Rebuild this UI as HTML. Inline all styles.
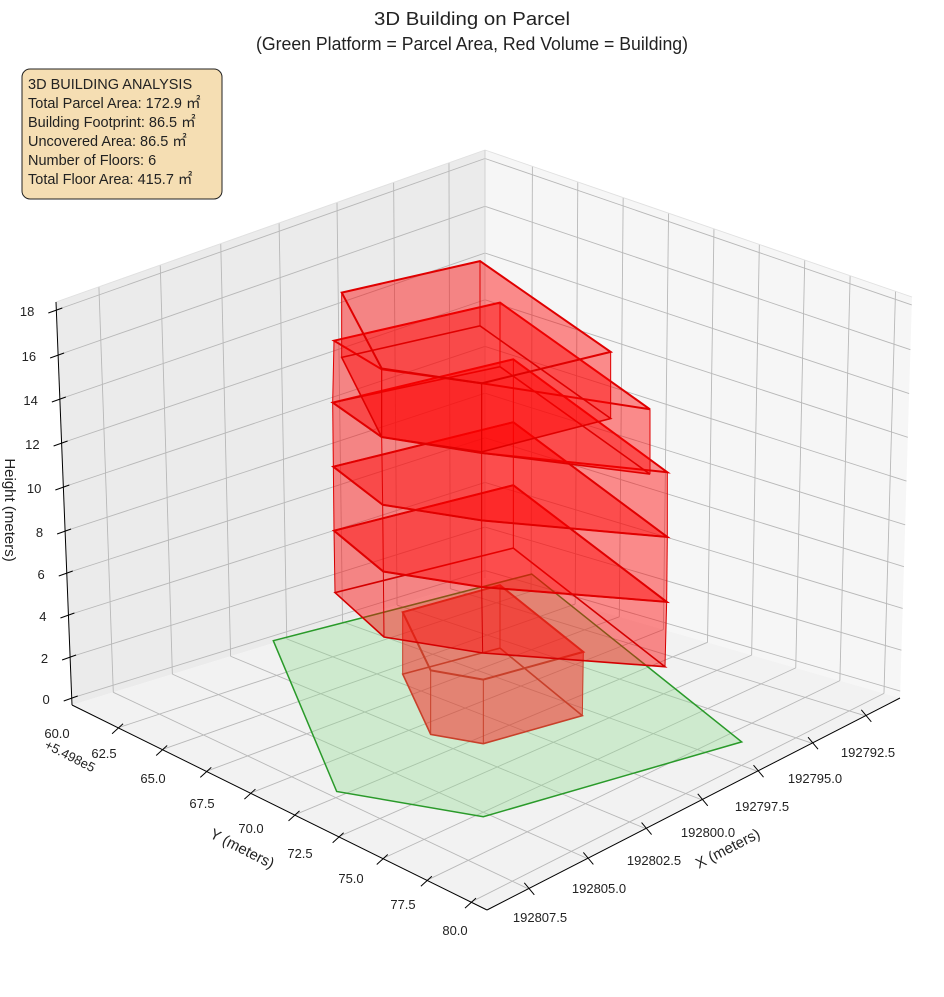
<!DOCTYPE html>
<html><head><meta charset="utf-8"><style>
body{margin:0;background:#fff;}
svg text{font-family:"Liberation Sans",sans-serif;fill:#222;}
</style></head><body>
<svg id="s" width="944" height="992" xmlns="http://www.w3.org/2000/svg">
<rect width="944" height="992" fill="#fff"/>
<g id="panes"></g>
<g id="grid" stroke="#b8b8b8" stroke-width="0.9" fill="none"></g>
<g id="axes" stroke="#000" stroke-width="1" fill="none"></g>
<g id="bld"></g>
<g id="lbl" font-size="13"></g>
<text x="472" y="25" font-size="18" text-anchor="middle" textLength="196" lengthAdjust="spacingAndGlyphs">3D Building on Parcel</text>
<text x="472" y="50" font-size="18" text-anchor="middle" textLength="432" lengthAdjust="spacingAndGlyphs">(Green Platform = Parcel Area, Red Volume = Building)</text>
<rect x="22" y="69" width="200" height="130" rx="8" fill="#f5deb3" stroke="#222" stroke-width="1"/>
<g font-size="14.5">
<text x="28" y="89">3D BUILDING ANALYSIS</text>
<text x="28" y="108">Total Parcel Area: 172.9 ㎡</text>
<text x="28" y="127">Building Footprint: 86.5 ㎡</text>
<text x="28" y="146">Uncovered Area: 86.5 ㎡</text>
<text x="28" y="165">Number of Floors: 6</text>
<text x="28" y="184">Total Floor Area: 415.7 ㎡</text>
</g>
<text x="730" y="853" font-size="15" text-anchor="middle" transform="rotate(-27 730 853)">X (meters)</text>
<text x="240" y="853" font-size="15" text-anchor="middle" transform="rotate(27 240 853)">Y (meters)</text>
<text x="5" y="510" font-size="15" text-anchor="middle" transform="rotate(90 5 510)">Height (meters)</text>
<text x="68" y="760" font-size="13" text-anchor="middle" transform="rotate(27 68 760)">+5.498e5</text>
</svg>
<script>
const NS="http://www.w3.org/2000/svg";
function el(p,tag,a){const e=document.createElementNS(NS,tag);for(const k in a)e.setAttribute(k,a[k]);p.appendChild(e);return e;}
const L=[72,705],B=[485,578],R=[900,698],F=[487,910],LT=[56,302],BT=[485,150],RT=[912,297];
const lerp=(a,b,t)=>[a[0]+(b[0]-a[0])*t,a[1]+(b[1]-a[1])*t];
const pts=a=>a.map(p=>p[0].toFixed(1)+","+p[1].toFixed(1)).join(" ");
const panes=document.getElementById("panes");
el(panes,"polygon",{points:pts([LT,BT,B,L]),fill:"#ebebeb"});
el(panes,"polygon",{points:pts([BT,RT,R,B]),fill:"#f6f6f6"});
el(panes,"polygon",{points:pts([L,B,R,F]),fill:"#f2f2f2"});
const g=document.getElementById("grid");
const line=(p,a,b,extra)=>{const o={x1:a[0],y1:a[1],x2:b[0],y2:b[1]};for(const k in extra)o[k]=extra[k];return el(p,"line",o);};
const xt=[0.10,0.243,0.384,0.52,0.655,0.787,0.916];
const yt=[];for(let i=0;i<9;i++)yt.push(0.111+i*0.1063);
const zy=[698,657,615,573,531,487,443,399,355,310];
const zf=zy.map(y=>(705-y)/403);
xt.forEach(t=>{line(g,lerp(LT,BT,t),lerp(L,B,t));line(g,lerp(L,B,t),lerp(F,R,t));});
yt.forEach(t=>{line(g,lerp(BT,RT,t),lerp(B,R,t));line(g,lerp(B,R,t),lerp(L,F,t));});
zf.forEach(f=>{const a=lerp(L,LT,f),b=lerp(B,BT,f),c=lerp(R,RT,f);line(g,a,b);line(g,b,c);});
line(g,LT,BT,{stroke:"#e0e0e0"});line(g,BT,RT,{stroke:"#e0e0e0"});line(g,BT,B,{stroke:"#cfcfcf"});
const ax=document.getElementById("axes");
line(ax,LT,L);line(ax,L,F);line(ax,F,R);
zf.forEach(f=>{const a=lerp(L,LT,f);line(ax,[a[0]-8,a[1]+3],[a[0]+6,a[1]-2]);});
yt.forEach(t=>{const a=lerp(L,F,t);line(ax,[a[0]-6,a[1]+6],[a[0]+5,a[1]-4]);});
xt.forEach(t=>{const a=lerp(F,R,t);line(ax,[a[0]-4,a[1]-6],[a[0]+6,a[1]+6]);});
const lb=document.getElementById("lbl");
const zl=["0","2","4","6","8","10","12","14","16","18"];
zf.forEach((f,i)=>{const a=lerp(L,LT,f);const t=el(lb,"text",{x:a[0]-22,y:a[1]+6,"text-anchor":"end"});t.textContent=zl[i];});
const yl=["60.0","62.5","65.0","67.5","70.0","72.5","75.0","77.5","80.0"];
const ylp=[[57,738],[104,758],[153,783],[202,808],[251,833],[300,858],[351,883],[403,909],[455,935]];
yl.forEach((s,i)=>{const t=el(lb,"text",{x:ylp[i][0],y:ylp[i][1],"text-anchor":"middle"});t.textContent=s;});
const xl=["192792.5","192795.0","192797.5","192800.0","192802.5","192805.0","192807.5"];
const xlp=[[868,757],[815,783],[762,811],[708,837],[654,865],[599,893],[540,922]];
xl.forEach((s,i)=>{const t=el(lb,"text",{x:xlp[i][0],y:xlp[i][1],"text-anchor":"middle"});t.textContent=s;});
const bg=document.getElementById("bld");
const T=p=>[260+p[0]/3,250+p[1]/2.7];
const green=[[40,1055],[815,875],[1445,1328],[670,1530],[230,1462]].map(T);
el(bg,"polygon",{points:pts(green),fill:"rgba(140,220,140,0.35)",stroke:"#2a9a2a","stroke-width":1.5});
const f2t=[[222,758],[760,635],[1220,950],[665,910],[370,868]];
const f3t=[[220,585],[760,465],[1222,775],[665,730],[368,688]];
const f4t=[[218,412],[760,295],[1222,600],[665,548],[365,505]];
const floors=[
 {b:[[428,1145],[720,1075],[967,1257],[670,1333],[512,1308]],t:[[428,978],[720,905],[970,1085],[670,1160],[512,1135]],c:"#c8402a"},
 {b:[[225,925],[760,805],[1215,1125],[668,1088],[372,1045]],t:f2t,c:"#d40000"},
 {b:f2t,t:f3t,c:"#e00000"},
 {b:f3t,t:f4t,c:"#e00000"},
 {b:[[218,412],[720,315],[1170,605],[665,548],[365,505]],t:[[222,245],[720,142],[1170,430],[665,360],[365,322]],c:"#e00000"},
 {b:[[245,290],[660,205],[1052,455],[665,545],[365,505]],t:[[245,115],[660,30],[1052,275],[665,360],[365,320]],c:"#e00000"}
];
floors.forEach(fl=>{
 const b=fl.b.map(T),t=fl.t.map(T);
 const fill="rgba(255,0,0,0.25)";
 el(bg,"polygon",{points:pts(b),fill:fill});
 for(let i=0;i<5;i++){const j=(i+1)%5;el(bg,"polygon",{points:pts([b[i],b[j],t[j],t[i]]),fill:fill});}
 el(bg,"polygon",{points:pts(t),fill:fill});
 el(bg,"polygon",{points:pts(b),fill:"none",stroke:fl.c,"stroke-width":1.6});
 el(bg,"polygon",{points:pts(t),fill:"none",stroke:fl.c,"stroke-width":2});
 for(let i=0;i<5;i++)line(bg,b[i],t[i],{stroke:fl.c,"stroke-width":1});
});
</script>
</body></html>
